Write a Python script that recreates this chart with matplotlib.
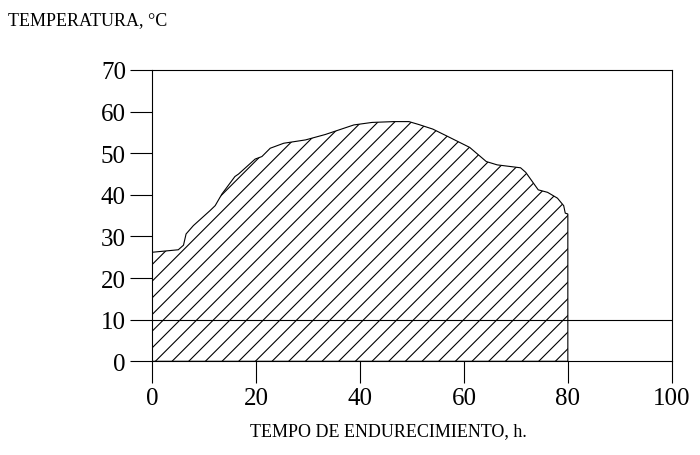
import matplotlib
matplotlib.use("Agg")
import matplotlib.pyplot as plt

# curve (hours, degC)
horas = [0, 0.8, 5, 6, 6.5, 7.9, 11.1, 12.1, 13.4, 15.9, 16.6, 19.8, 21.1, 22.7,
         25.3, 29.5, 33.3, 38.8, 42.3, 46.5, 49.4, 51.3, 54.0, 56.6, 61.1, 64.3,
         66.4, 70.9, 71.9, 74.3, 76.1, 78.0, 79.2, 79.5, 80.0]
temperatura = [26.2, 26.3, 26.8, 27.9, 30.6, 32.6, 36.2, 37.4, 40.2, 44.4, 45.0,
               48.6, 49.2, 51.2, 52.4, 53.2, 54.5, 56.8, 57.4, 57.6, 57.6, 56.9,
               55.8, 54.2, 51.4, 48.0, 47.2, 46.5, 45.4, 41.2, 40.6, 39.2, 37.4,
               35.6, 35.4]
limite = 10
xticks = [0, 20, 40, 60, 80, 100]
yticks = [0, 10, 20, 30, 40, 50, 60, 70]

plt.rcParams['font.family'] = ['Liberation Serif', 'DejaVu Serif']
plt.rcParams['hatch.linewidth'] = 0.8

fig = plt.figure(figsize=(7, 4.56), dpi=100)
ax = fig.add_axes([0.2176, 0.2055, 0.742, 0.6388])

# hatched area under the curve
xs = horas + [horas[-1], 0]
ys = temperatura + [0, 0]
ax.fill(xs, ys, facecolor='white', edgecolor='black', hatch='//', linewidth=0.8)

ax.axhline(limite, color='black', linewidth=0.8)

ax.set_xlim(0, 100)
ax.set_ylim(0, 70)
ax.set_xticks(xticks)
ax.set_yticks(yticks)
ax.tick_params(direction='out', length=15.5, width=0.8, labelsize=18, pad=3)
ax.tick_params(axis='y', pad=3.5)
for s in ax.spines.values():
    s.set_linewidth(0.8)

fig.text(8 / 700, 1 - 21 / 456, 'TEMPERATURA, °C', fontsize=13, va='center', ha='left')
fig.text(388 / 700, 1 - 432 / 456, 'TEMPO DE ENDURECIMIENTO, h.', fontsize=13,
         va='center', ha='center')

fig.savefig('out.png', dpi=100)
